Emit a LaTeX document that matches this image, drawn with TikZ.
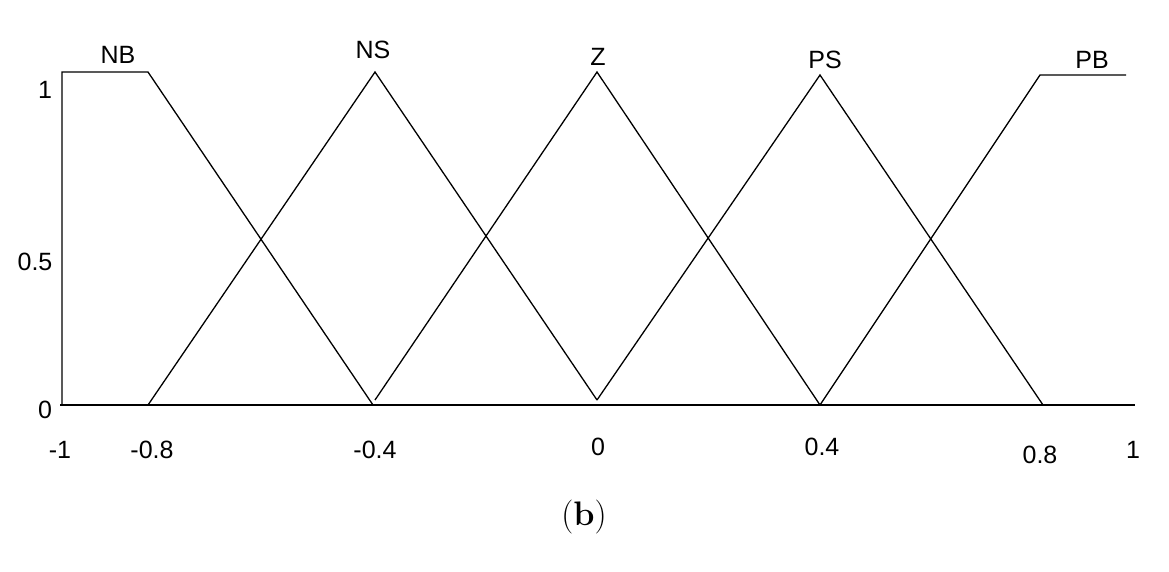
\documentclass[tikz,border=0pt]{standalone}
\usepackage{fontspec}
\newfontfamily\lab{Liberation Sans}
\begin{document}
\begin{tikzpicture}[x=1pt,y=-1pt,
  mf/.style={line width=1.3pt,black},
  lbl/.style={font=\lab\fontsize{25}{28}\selectfont,inner sep=0pt}]
\useasboundingbox (0,0) rectangle (1169,571);
% axis
\coordinate (o) at (60,405); \coordinate (e) at (1135,405);
\draw[mf] (o) -- (e);
% NB
\coordinate (nb0) at (62,405); \coordinate (nb1) at (62,72); \coordinate (nb2) at (148,72); \coordinate (nb3) at (373,405);
\draw[mf] (nb0) -- (nb1) -- (nb2) -- (nb3);
% NS
\coordinate (ns0) at (148,405); \coordinate (ns1) at (375,72); \coordinate (ns2) at (597,400);
\draw[mf] (ns0) -- (ns1) -- (ns2);
% Z
\coordinate (z0) at (375,400); \coordinate (z1) at (597,72); \coordinate (z2) at (820,405);
\draw[mf] (z0) -- (z1) -- (z2);
% PS
\coordinate (ps0) at (597,400); \coordinate (ps1) at (820,75); \coordinate (ps2) at (1043,405);
\draw[mf] (ps0) -- (ps1) -- (ps2);
% PB
\coordinate (pb0) at (820,405); \coordinate (pb1) at (1040,75); \coordinate (pb2) at (1126,75);
\draw[mf] (pb0) -- (pb1) -- (pb2);
% labels
\node[lbl] (lNB) at (118,55) {NB};
\node[lbl] (lNS) at (373,50) {NS};
\node[lbl] (lZ) at (598,57) {Z};
\node[lbl] (lPS) at (825,60) {PS};
\node[lbl] (lPB) at (1092,60) {PB};
\node[lbl] (y1) at (45,90) {1};
\node[lbl] (y5) at (35,262) {0.5};
\node[lbl] (y0) at (45,410) {0};
\node[lbl] (x1) at (60,450) {-1};
\node[lbl] (x2) at (152,450) {-0.8};
\node[lbl] (x3) at (375,450) {-0.4};
\node[lbl] (x4) at (598,447) {0};
\node[lbl] (x5) at (822,447) {0.4};
\node[lbl] (x6) at (1040,455) {0.8};
\node[lbl] (x7) at (1133,450) {1};
\node[inner sep=0pt,font=\fontsize{34}{40}\selectfont] (cap) at (584,517) {(\textbf{b})};
\end{tikzpicture}
\end{document}
